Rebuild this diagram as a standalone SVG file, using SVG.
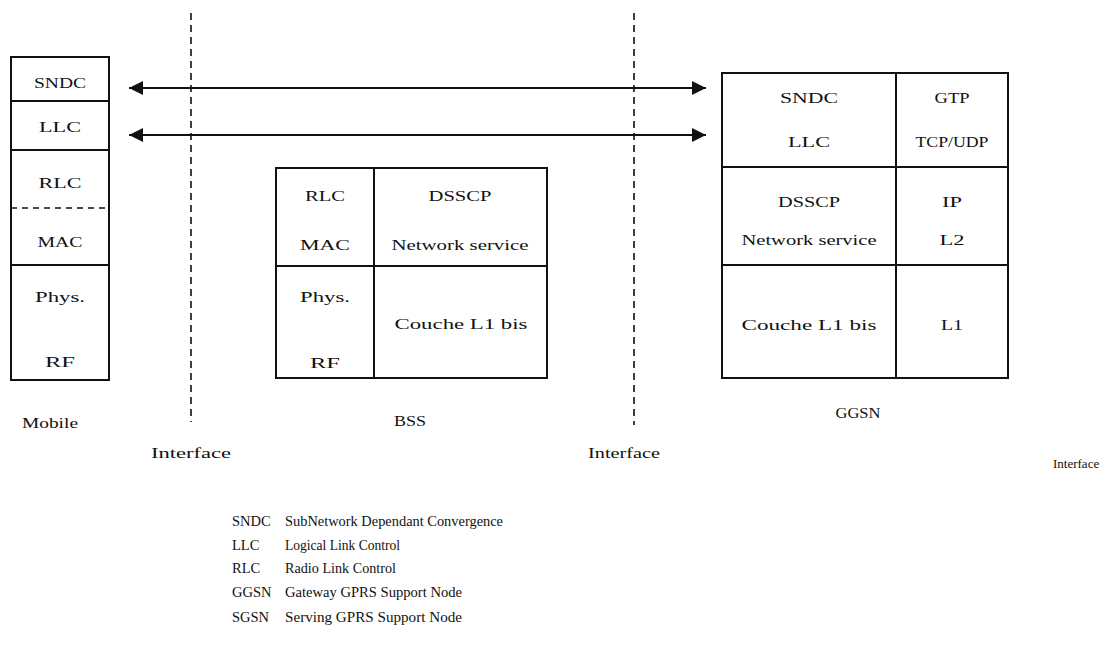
<svg xmlns="http://www.w3.org/2000/svg" width="1105" height="657" viewBox="0 0 1105 657">
<defs>
<style>
text{font-family:"Liberation Serif","DejaVu Serif",serif;font-size:15px;fill:#111}
.c{text-anchor:middle}
.box{fill:none;stroke:#111;stroke-width:2}
.ln{stroke:#111;stroke-width:2;fill:none}
.dash{stroke:#111;stroke-width:1.6;stroke-dasharray:7 5;fill:none}
.arr{stroke:#111;stroke-width:2.2;fill:none;marker-start:url(#ah);marker-end:url(#ah)}
.leg{font-size:14.5px}
</style>
<marker id="ah" markerUnits="userSpaceOnUse" markerWidth="16" markerHeight="14" refX="14" refY="7" orient="auto-start-reverse">
<path d="M0,0 L14,7 L0,14 z" fill="#111"/>
</marker>
</defs>
<rect width="1105" height="657" fill="#fff"/>

<g id="interfaces">
<line class="dash" x1="191" y1="13" x2="191" y2="422"/>
<line class="dash" x1="634" y1="13" x2="634" y2="425"/>
<text class="c" x="191" y="458" textLength="80" lengthAdjust="spacingAndGlyphs">Interface</text>
<text x="588" y="458" textLength="72" lengthAdjust="spacingAndGlyphs">Interface</text>
<text x="1053" y="468" style="font-size:13px">Interface</text>
</g>

<g id="mobile">
<rect class="box" x="11" y="57" width="98" height="323"/>
<line class="ln" x1="11" y1="101" x2="109" y2="101"/>
<line class="ln" x1="11" y1="150" x2="109" y2="150"/>
<line class="dash" x1="11" y1="208" x2="109" y2="208" style="stroke-dasharray:6 5"/>
<line class="ln" x1="11" y1="265" x2="109" y2="265"/>
<text class="c" x="60" y="88" textLength="52" lengthAdjust="spacingAndGlyphs">SNDC</text>
<text class="c" x="60" y="132" textLength="42" lengthAdjust="spacingAndGlyphs">LLC</text>
<text class="c" x="60" y="188" textLength="43" lengthAdjust="spacingAndGlyphs">RLC</text>
<text class="c" x="60" y="247" textLength="45" lengthAdjust="spacingAndGlyphs">MAC</text>
<text class="c" x="60" y="302" textLength="50" lengthAdjust="spacingAndGlyphs">Phys.</text>
<text class="c" x="60" y="367" textLength="30" lengthAdjust="spacingAndGlyphs">RF</text>
<text class="c" x="50" y="428" textLength="56" lengthAdjust="spacingAndGlyphs">Mobile</text>
</g>

<g id="bss">
<rect class="box" x="276" y="168" width="271" height="210"/>
<line class="ln" x1="374" y1="168" x2="374" y2="378"/>
<line class="ln" x1="276" y1="266" x2="547" y2="266"/>
<text class="c" x="325" y="201" textLength="40" lengthAdjust="spacingAndGlyphs">RLC</text>
<text class="c" x="325" y="250" textLength="50" lengthAdjust="spacingAndGlyphs">MAC</text>
<text class="c" x="325" y="302" textLength="50" lengthAdjust="spacingAndGlyphs">Phys.</text>
<text class="c" x="325" y="368" textLength="30" lengthAdjust="spacingAndGlyphs">RF</text>
<text class="c" x="460" y="201" textLength="63" lengthAdjust="spacingAndGlyphs">DSSCP</text>
<text class="c" x="460" y="250" textLength="137" lengthAdjust="spacingAndGlyphs">Network service</text>
<text class="c" x="461" y="329" textLength="133" lengthAdjust="spacingAndGlyphs">Couche L1 bis</text>
<text class="c" x="410" y="426" textLength="32" lengthAdjust="spacingAndGlyphs">BSS</text>
</g>

<g id="ggsn">
<rect class="box" x="722" y="73" width="286" height="305"/>
<line class="ln" x1="896" y1="73" x2="896" y2="378"/>
<line class="ln" x1="722" y1="167" x2="1008" y2="167"/>
<line class="ln" x1="722" y1="265" x2="1008" y2="265"/>
<text class="c" x="809" y="103" textLength="58" lengthAdjust="spacingAndGlyphs">SNDC</text>
<text class="c" x="809" y="147" textLength="42" lengthAdjust="spacingAndGlyphs">LLC</text>
<text class="c" x="952" y="103" textLength="35" lengthAdjust="spacingAndGlyphs">GTP</text>
<text class="c" x="952" y="147" textLength="73" lengthAdjust="spacingAndGlyphs">TCP/UDP</text>
<text class="c" x="809" y="207" textLength="62" lengthAdjust="spacingAndGlyphs">DSSCP</text>
<text class="c" x="809" y="245" textLength="135" lengthAdjust="spacingAndGlyphs">Network service</text>
<text class="c" x="952" y="207" textLength="20" lengthAdjust="spacingAndGlyphs">IP</text>
<text class="c" x="952" y="245" textLength="25" lengthAdjust="spacingAndGlyphs">L2</text>
<text class="c" x="809" y="330" textLength="135" lengthAdjust="spacingAndGlyphs">Couche L1 bis</text>
<text class="c" x="952" y="330" textLength="22" lengthAdjust="spacingAndGlyphs">L1</text>
<text class="c" x="858" y="418" textLength="45" lengthAdjust="spacingAndGlyphs">GGSN</text>
</g>

<g id="connectors">
<line class="arr" x1="129" y1="88" x2="706" y2="88"/>
<line class="arr" x1="129" y1="135" x2="706" y2="135"/>
</g>

<g id="legend" class="leg">
<text class="leg" x="232" y="526">SNDC</text>
<text class="leg" x="285" y="526" textLength="218" lengthAdjust="spacingAndGlyphs">SubNetwork Dependant Convergence</text>
<text class="leg" x="232" y="550">LLC</text>
<text class="leg" x="285" y="550" textLength="115" lengthAdjust="spacingAndGlyphs">Logical Link Control</text>
<text class="leg" x="232" y="573">RLC</text>
<text class="leg" x="285" y="573" textLength="111" lengthAdjust="spacingAndGlyphs">Radio Link Control</text>
<text class="leg" x="232" y="597">GGSN</text>
<text class="leg" x="285" y="597" textLength="177" lengthAdjust="spacingAndGlyphs">Gateway GPRS Support Node</text>
<text class="leg" x="232" y="622">SGSN</text>
<text class="leg" x="285" y="622" textLength="177" lengthAdjust="spacingAndGlyphs">Serving GPRS Support Node</text>
</g>
</svg>
